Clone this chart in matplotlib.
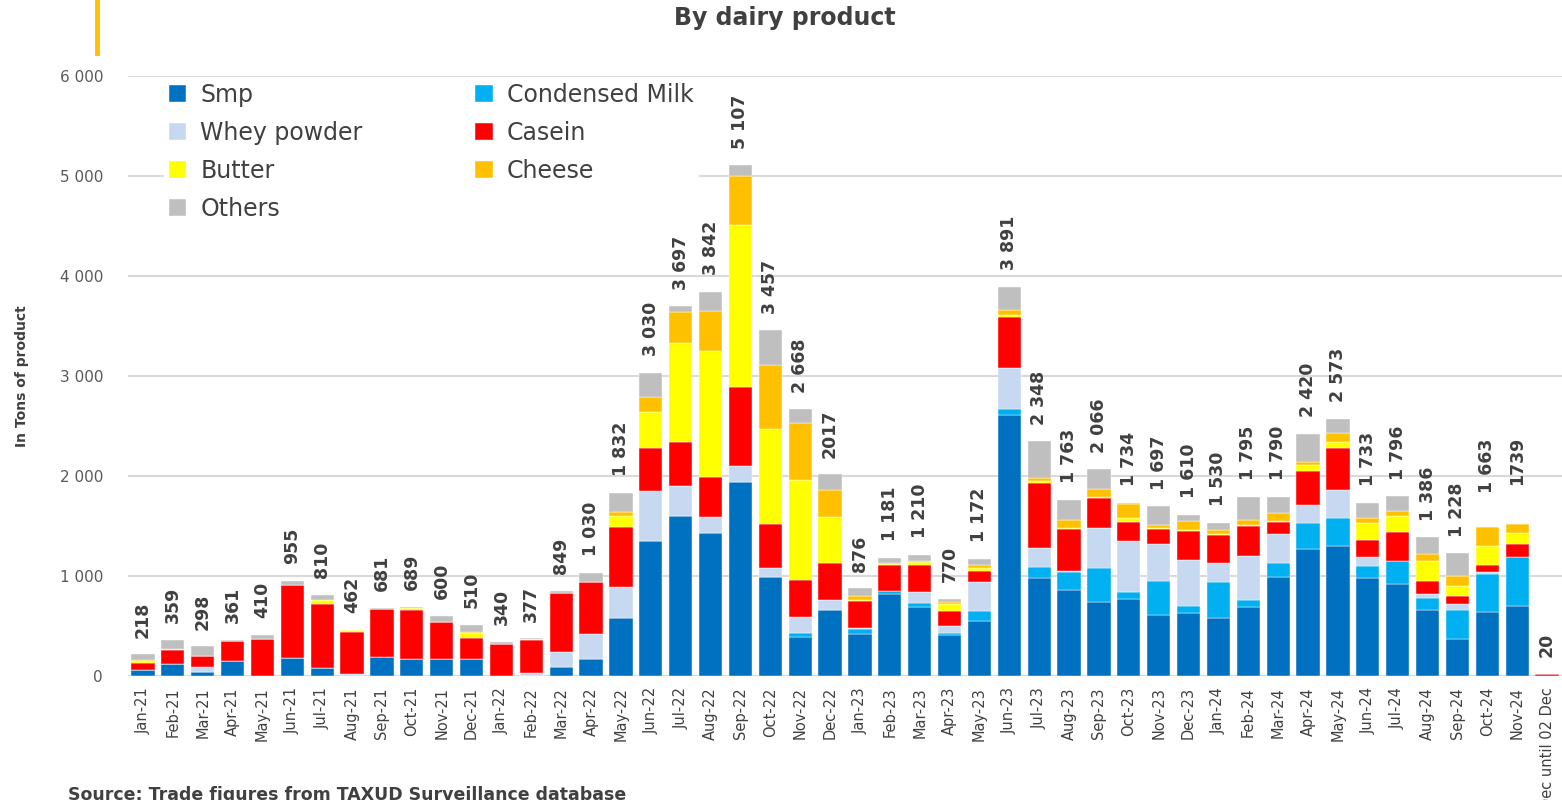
import matplotlib
matplotlib.use("Agg")
import matplotlib.pyplot as plt
import numpy as np
from matplotlib.lines import Line2D

months = [
    "Jan-21", "Feb-21", "Mar-21", "Apr-21", "May-21", "Jun-21", "Jul-21", "Aug-21",
    "Sep-21", "Oct-21", "Nov-21", "Dec-21",
    "Jan-22", "Feb-22", "Mar-22", "Apr-22", "May-22", "Jun-22", "Jul-22", "Aug-22",
    "Sep-22", "Oct-22", "Nov-22", "Dec-22",
    "Jan-23", "Feb-23", "Mar-23", "Apr-23", "May-23", "Jun-23", "Jul-23", "Aug-23",
    "Sep-23", "Oct-23", "Nov-23", "Dec-23",
    "Jan-24", "Feb-24", "Mar-24", "Apr-24", "May-24", "Jun-24", "Jul-24", "Aug-24",
    "Sep-24", "Oct-24", "Nov-24", "Dec until 02 Dec",
]

smp = [65, 125, 45, 150, 0, 180, 80, 0, 195, 170, 175, 175,
       0, 0, 90, 170, 585, 1350, 1600, 1430, 1940, 995, 395, 665,
       425, 825, 690, 410, 550, 2610, 985, 860, 740, 770, 610, 635,
       580, 695, 990, 1270, 1300, 980, 925, 660, 375, 645, 705, 0]
condensed = [0, 0, 0, 0, 0, 0, 0, 0, 0, 0, 0, 0,
             0, 0, 0, 0, 0, 0, 0, 0, 0, 0, 40, 0,
             50, 30, 45, 25, 105, 60, 110, 180, 345, 75, 340, 65,
             360, 70, 140, 265, 280, 120, 225, 120, 285, 375, 485, 0]
whey = [0, 0, 50, 0, 0, 0, 0, 20, 0, 5, 0, 0,
        0, 35, 155, 255, 305, 500, 300, 160, 160, 90, 155, 95,
        5, 0, 110, 65, 285, 415, 185, 15, 400, 510, 375, 465,
        190, 440, 295, 175, 285, 90, 5, 45, 60, 20, 5, 0]
casein = [70, 140, 105, 200, 375, 735, 640, 425, 475, 490, 370, 210,
          320, 325, 585, 520, 600, 430, 440, 400, 795, 435, 370, 375,
          270, 260, 270, 155, 115, 510, 650, 420, 300, 190, 150, 290,
          280, 295, 115, 340, 420, 170, 290, 130, 80, 75, 130, 20]
butter = [18, 5, 3, 0, 0, 0, 40, 17, 0, 12, 0, 50,
          0, 10, 0, 0, 110, 365, 995, 1260, 1615, 955, 1005, 455,
          10, 10, 30, 65, 25, 20, 20, 5, 10, 35, 5, 5,
          15, 15, 15, 60, 55, 175, 160, 195, 105, 185, 105, 0]
cheese = [7, 0, 0, 0, 0, 0, 0, 0, 0, 5, 0, 5,
          0, 0, 0, 0, 45, 145, 305, 400, 490, 635, 570, 275,
          45, 10, 10, 20, 35, 45, 30, 85, 80, 140, 35, 95,
          35, 50, 75, 35, 90, 50, 50, 75, 95, 190, 95, 0]
others = [58, 89, 95, 11, 35, 40, 50, 0, 11, 7, 55, 70,
          20, 7, 19, 85, 187, 240, 57, 192, 107, 347, 133, 152,
          71, 46, 55, 30, 57, 231, 368, 198, 191, 14, 182, 55,
          70, 230, 160, 275, 143, 148, 141, 161, 228, 0, 0, 0]

totals = [218, 359, 298, 361, 410, 955, 810, 462, 681, 689, 600, 510,
          340, 377, 849, 1030, 1832, 3030, 3697, 3842, 5107, 3457, 2668, 2017,
          876, 1181, 1210, 770, 1172, 3891, 2348, 1763, 2066, 1734, 1697, 1610,
          1530, 1795, 1790, 2420, 2573, 1733, 1796, 1386, 1228, 1663, 1739, 20]
total_labels = ["218", "359", "298", "361", "410", "955", "810", "462", "681", "689", "600", "510",
                "340", "377", "849", "1 030", "1 832", "3 030", "3 697", "3 842", "5 107", "3 457",
                "2 668", "2017",
                "876", "1 181", "1 210", "770", "1 172", "3 891", "2 348", "1 763", "2 066", "1 734",
                "1 697", "1 610",
                "1 530", "1 795", "1 790", "2 420", "2 573", "1 733", "1 796", "1 386", "1 228",
                "1 663", "1739", "20"]

series = [
    ("Smp", smp, "#0070C0"),
    ("Condensed Milk", condensed, "#00B0F0"),
    ("Whey powder", whey, "#C6D9F1"),
    ("Casein", casein, "#FF0000"),
    ("Butter", butter, "#FFFF00"),
    ("Cheese", cheese, "#FFC000"),
    ("Others", others, "#BFBFBF"),
]

plt.rcParams["font.family"] = ["DejaVu Sans"]
TEXT = "#404040"

fig = plt.figure(figsize=(15.62, 8.0), dpi=100)
ax = fig.add_axes([128 / 1562, 124 / 800, 1 - 128 / 1562, 600 / 800])

x = np.arange(len(months))
bottom = np.zeros(len(months))
handles = {}
for name, vals, color in series:
    vals = np.array(vals, dtype=float)
    b = ax.bar(x, vals, 0.78, bottom=bottom, color=color, label=name,
               edgecolor="white", linewidth=0.3, zorder=2)
    handles[name] = b
    bottom += vals

# labels sit on the published totals, not the stacked sum
for xi, t, lab in zip(x, totals, total_labels):
    ax.annotate(lab, (xi, t), xytext=(0, 12), textcoords="offset points",
                rotation=90, ha="center", va="bottom", fontsize=12.5,
                fontweight="bold", color=TEXT)

ax.set_xlim(-0.5, 47.5)
ax.set_ylim(0, 6000)
ax.set_yticks(np.arange(0, 6001, 1000))
ax.set_yticklabels(["0", "1 000", "2 000", "3 000", "4 000", "5 000", "6 000"])
ax.yaxis.grid(True, color="#D9D9D9", linewidth=1.5, zorder=0)
ax.set_axisbelow(True)
ax.set_xticks(x)
ax.set_xticklabels(months, rotation=90, fontsize=10.5, color=TEXT)
ax.tick_params(axis="both", length=0)
ax.tick_params(axis="y", labelsize=11, labelcolor="#595959", pad=18)
ax.tick_params(axis="x", pad=8)
for s in ax.spines.values():
    s.set_visible(False)

ax.set_ylabel("In Tons of product", fontsize=10, fontweight="bold", color=TEXT, labelpad=22)

order = ["Smp", "Whey powder", "Butter", "Others", "Condensed Milk", "Casein", "Cheese"]
leg = fig.legend([handles[n] for n in order], order, loc="upper left",
                 bbox_to_anchor=(152 / 1562, 1 - 66 / 800), ncol=2, fontsize=17,
                 frameon=True, framealpha=1, facecolor="white", edgecolor="white",
                 handlelength=0.75, handleheight=0.75, handletextpad=0.6,
                 columnspacing=4.75, labelspacing=0.6, borderpad=0.2)
for t in leg.get_texts():
    t.set_color(TEXT)

fig.text(785 / 1562, 1 - 18 / 800, "By dairy product", ha="center", va="center",
         fontsize=17, fontweight="bold", color=TEXT)
fig.add_artist(Line2D([97 / 1562, 97 / 1562], [1.0, 1 - 53 / 800],
                      transform=fig.transFigure, color="#FFC000", linewidth=3.5))
fig.text(68 / 1562, 1 - 786 / 800, "Source: Trade figures from TAXUD Surveillance database",
         ha="left", va="top", fontsize=12.5, fontweight="bold", color=TEXT)

fig.savefig("out.png", dpi=100)
